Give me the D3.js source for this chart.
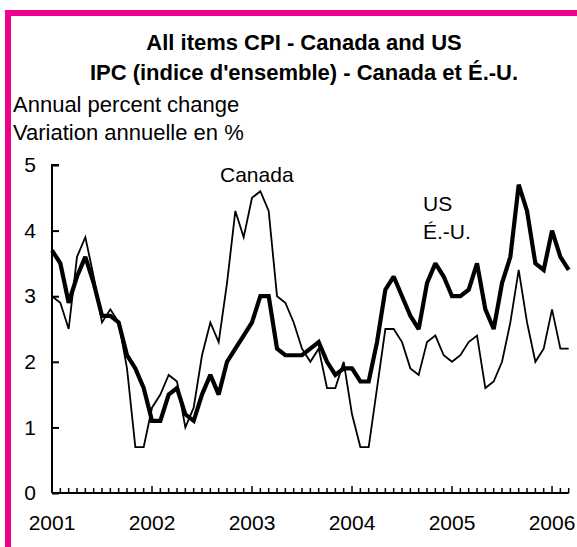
<!DOCTYPE html>
<html><head><meta charset="utf-8">
<script src="https://cdn.jsdelivr.net/npm/d3@7"></script>
<style>
html,body{margin:0;padding:0;background:#fff;}
svg{display:block;font-family:"Liberation Sans",Arial,sans-serif;}
</style></head>
<body>
<svg id="chart" width="577" height="547"></svg>
<script>
const titleLines = ["All items CPI - Canada and US", "IPC (indice d'ensemble) - Canada et É.-U."];
const unitLines = ["Annual percent change", "Variation annuelle en %"];
const yearLabels = ["2001", "2002", "2003", "2004", "2005", "2006"];
const yTicks = [0, 1, 2, 3, 4, 5];
// Monthly values, Jan 2001 - Mar 2006
const canada = [3.0,2.9,2.5,3.6,3.9,3.3,2.6,2.8,2.6,1.9,0.7,0.7,
  1.3,1.5,1.8,1.7,1.0,1.3,2.1,2.6,2.3,3.2,4.3,3.9,
  4.5,4.6,4.3,3.0,2.9,2.6,2.2,2.0,2.2,1.6,1.6,2.0,
  1.2,0.7,0.7,1.6,2.5,2.5,2.3,1.9,1.8,2.3,2.4,2.1,
  2.0,2.1,2.3,2.4,1.6,1.7,2.0,2.6,3.4,2.6,2.0,2.2,
  2.8,2.2,2.2];
const us = [3.7,3.5,2.9,3.3,3.6,3.2,2.7,2.7,2.6,2.1,1.9,1.6,
  1.1,1.1,1.5,1.6,1.2,1.1,1.5,1.8,1.5,2.0,2.2,2.4,
  2.6,3.0,3.0,2.2,2.1,2.1,2.1,2.2,2.3,2.0,1.8,1.9,
  1.9,1.7,1.7,2.3,3.1,3.3,3.0,2.7,2.5,3.2,3.5,3.3,
  3.0,3.0,3.1,3.5,2.8,2.5,3.2,3.6,4.7,4.3,3.5,3.4,
  4.0,3.6,3.4];
const seriesLabels = {canada: ["Canada"], us: ["US", "É.-U."]};

const svg = d3.select("#chart");
const pink = "#EC008C";

// frame (top and left visible)
svg.append("path").attr("d", "M8,547 V13 H577").attr("fill", "none")
  .attr("stroke", pink).attr("stroke-width", 6);

const x = d3.scaleLinear().domain([0, 62]).range([52, 568.7]);
const y = d3.scaleLinear().domain([0, 5]).range([493, 165]);

// titles
svg.selectAll("text.title").data(titleLines).join("text")
  .attr("class", "title")
  .attr("x", 304).attr("y", (d, i) => 50 + i * 30)
  .attr("text-anchor", "middle").attr("font-weight", "bold")
  .attr("font-size", 22).attr("fill", "#000").text(d => d);

svg.selectAll("text.unit").data(unitLines).join("text")
  .attr("class", "unit")
  .attr("x", 13).attr("y", (d, i) => 112 + i * 28)
  .attr("font-size", 22).attr("fill", "#000").text(d => d);

// y axis
const yAxis = d3.axisRight(y).tickValues(yTicks).tickSize(7).tickFormat(d3.format("d"));
const gy = svg.append("g").attr("transform", "translate(52,0)").call(yAxis);
gy.select(".domain").attr("d", `M7,${y(5)}H0V${y(0)}`).attr("stroke", "#000").attr("stroke-width", 2);
gy.selectAll(".tick line").attr("stroke", "#000").attr("stroke-width", 2);
gy.selectAll(".tick text").attr("x", -16).attr("text-anchor", "end")
  .attr("font-size", 21).attr("font-family", "Liberation Sans, Arial, sans-serif").attr("fill", "#000");

// x axis: monthly minor ticks, yearly major ticks
const months = d3.range(0, 63);
const gx = svg.append("g").attr("transform", `translate(0,${y(0)})`);
gx.append("line").attr("x1", x(0)).attr("x2", x(62)).attr("y1", 0).attr("y2", 0)
  .attr("stroke", "#000").attr("stroke-width", 2);
gx.selectAll("line.mt").data(months).join("line").attr("class", "mt")
  .attr("x1", d => x(d)).attr("x2", d => x(d))
  .attr("y1", 0).attr("y2", d => d % 12 === 0 ? -7 : -5)
  .attr("stroke", "#000").attr("stroke-width", 1.5);
gx.selectAll("text.yl").data(yearLabels).join("text").attr("class", "yl")
  .attr("x", (d, i) => x(i * 12)).attr("y", 37)
  .attr("text-anchor", "middle").attr("font-size", 21).attr("fill", "#000").text(d => d);

const line = d3.line().x((d, i) => x(i)).y(d => y(d));
svg.append("path").datum(canada).attr("d", line).attr("fill", "none")
  .attr("stroke", "#000").attr("stroke-width", 1.8).attr("stroke-linejoin", "miter");
svg.append("path").datum(us).attr("d", line).attr("fill", "none")
  .attr("stroke", "#000").attr("stroke-width", 4.2).attr("stroke-linejoin", "miter").attr("stroke-miterlimit", 2);

svg.selectAll("text.cl").data(seriesLabels.canada).join("text").attr("class", "cl")
  .attr("x", 220).attr("y", 182).attr("font-size", 21).attr("fill", "#000").text(d => d);
svg.selectAll("text.ul").data(seriesLabels.us).join("text").attr("class", "ul")
  .attr("x", 423).attr("y", (d, i) => 211 + i * 28).attr("font-size", 21).attr("fill", "#000").text(d => d);
</script>
</body></html>
